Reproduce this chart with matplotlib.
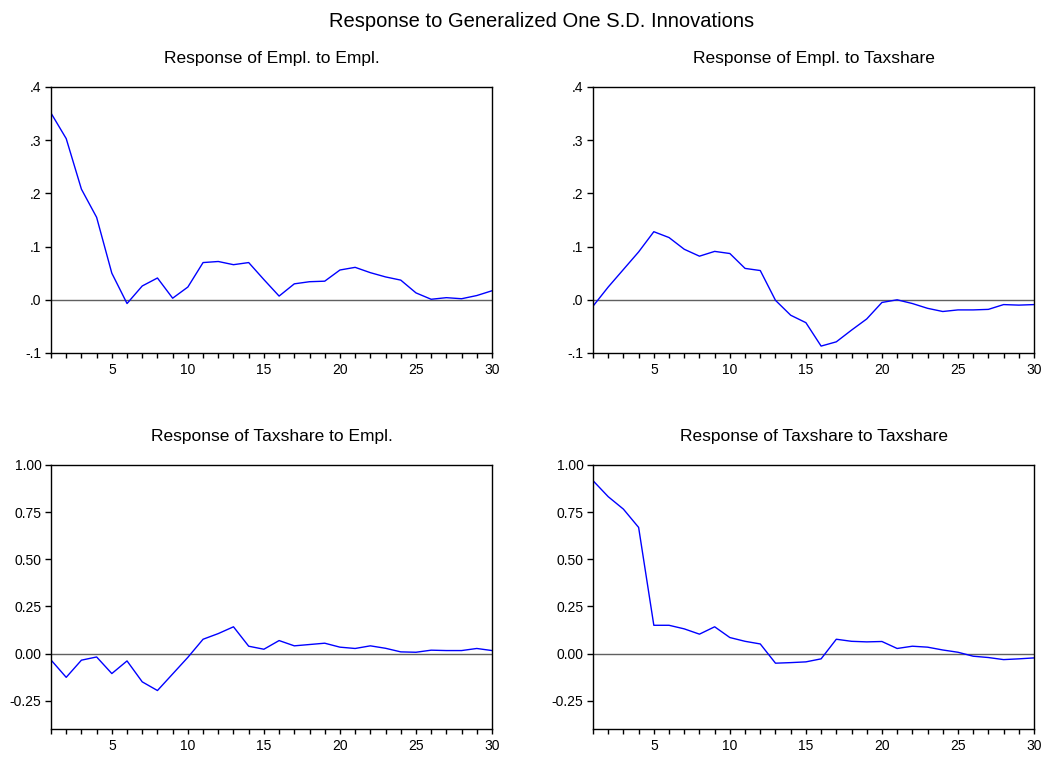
import matplotlib
matplotlib.use("Agg")
import matplotlib.pyplot as plt
from matplotlib.ticker import FixedLocator, MultipleLocator

plt.rcParams['font.family'] = ['Liberation Sans', 'DejaVu Sans']

periods = list(range(1, 31))

empl_to_empl = [0.351, 0.303, 0.208, 0.155, 0.050, -0.007, 0.026, 0.041, 0.003, 0.024,
                0.070, 0.072, 0.066, 0.070, 0.038, 0.007, 0.030, 0.034, 0.035, 0.056,
                0.061, 0.051, 0.043, 0.037, 0.013, 0.001, 0.004, 0.002, 0.008, 0.017]
empl_to_tax = [-0.012, 0.024, 0.057, 0.090, 0.128, 0.117, 0.095, 0.082, 0.091, 0.087,
               0.059, 0.055, -0.001, -0.029, -0.043, -0.087, -0.079, -0.057, -0.036, -0.005,
               0.000, -0.007, -0.016, -0.022, -0.019, -0.019, -0.018, -0.009, -0.010, -0.009]
tax_to_empl = [-0.034, -0.126, -0.035, -0.018, -0.106, -0.039, -0.150, -0.196, -0.108, -0.020,
               0.076, 0.106, 0.142, 0.039, 0.023, 0.069, 0.041, 0.048, 0.055, 0.034,
               0.027, 0.041, 0.028, 0.009, 0.007, 0.018, 0.016, 0.016, 0.027, 0.016]
tax_to_tax = [0.917, 0.832, 0.766, 0.669, 0.150, 0.150, 0.131, 0.103, 0.142, 0.085,
              0.065, 0.051, -0.051, -0.048, -0.044, -0.028, 0.076, 0.065, 0.062, 0.064,
              0.027, 0.039, 0.034, 0.019, 0.007, -0.014, -0.021, -0.032, -0.028, -0.023]

titles = ["Response of Empl. to Empl.", "Response of Empl. to Taxshare",
          "Response of Taxshare to Empl.", "Response of Taxshare to Taxshare"]
top_ticks = [-0.1, 0.0, 0.1, 0.2, 0.3, 0.4]
top_labels = ["-.1", ".0", ".1", ".2", ".3", ".4"]
bot_ticks = [-0.25, 0.0, 0.25, 0.5, 0.75, 1.0]
bot_labels = ["-0.25", "0.00", "0.25", "0.50", "0.75", "1.00"]

W, H = 1047, 759
fig = plt.figure(figsize=(W / 100, H / 100), dpi=100)

boxes = [(51, 87, 492, 353), (593, 87, 1034, 353),
         (51, 465, 492, 729), (593, 465, 1034, 729)]
series = [empl_to_empl, empl_to_tax, tax_to_empl, tax_to_tax]

for i, (box, ys, t) in enumerate(zip(boxes, series, titles)):
    x0, y0, x1, y1 = box
    ax = fig.add_axes([x0 / W, 1 - y1 / H, (x1 - x0) / W, (y1 - y0) / H])
    ax.axhline(0, color='#606060', lw=1.0, zorder=1)
    ax.plot(periods, ys, color='#0000ff', lw=1.0, zorder=2)
    ax.set_xlim(1, 30)
    ax.xaxis.set_major_locator(FixedLocator([5, 10, 15, 20, 25, 30]))
    ax.xaxis.set_minor_locator(MultipleLocator(1))
    if i < 2:
        ax.set_ylim(-0.1, 0.4)
        ax.set_yticks(top_ticks)
        ax.set_yticklabels(top_labels)
    else:
        ax.set_ylim(-0.4, 1.0)
        ax.set_yticks(bot_ticks)
        ax.set_yticklabels(bot_labels)
    ax.tick_params(axis='both', which='both', direction='out', length=4.3, width=1,
                   labelsize=10, pad=2.5, colors='black')
    ax.tick_params(axis='x', which='both', length=3.5)
    ax.tick_params(axis='x', which='major', pad=4)
    for s in ax.spines.values():
        s.set_linewidth(1.0)
        s.set_color('black')
    ax.set_title(t, fontsize=12.5, pad=17)

fig.text(0.517, 1 - 27 / H, "Response to Generalized One S.D. Innovations",
         ha='center', va='baseline', fontsize=14.5)

fig.savefig("out.png", dpi=100)
